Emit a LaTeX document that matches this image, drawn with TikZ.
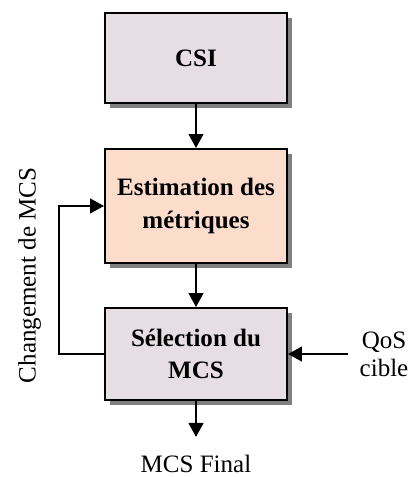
\documentclass[tikz,border=0pt]{standalone}
\usepackage{fontspec}
\setmainfont{Liberation Serif}
\usetikzlibrary{arrows.meta,shadows}
\definecolor{boxgray}{RGB}{231,222,227}
\definecolor{boxpeach}{RGB}{252,221,204}
\begin{document}
\begin{tikzpicture}[
	bloc/.style={draw, line width=1.4pt, minimum width=4.55cm, align=center,
		font=\fontsize{17.8}{22.8}\selectfont\bfseries,
		drop shadow={shadow xshift=0.12cm, shadow yshift=-0.12cm, fill=black!50, opacity=1}},
	fleche/.style={line width=1.4pt, -{Triangle[length=0.35cm,width=0.37cm]}},
	lbl/.style={font=\fontsize{17.8}{19.9}\selectfont, align=center}]
	\useasboundingbox (0,0) rectangle (10.3,11.925);
	
	%blocs
	\node[bloc, fill=boxgray, minimum height=2.25cm] (csi) at (4.9, 10.475){CSI};
	\node[bloc, fill=boxpeach, minimum height=2.85cm] (est) at (4.9, 6.775){Estimation des\\métriques};
	\node[bloc, fill=boxgray, minimum height=2.3cm] (sel) at (4.9, 3.075){Sélection du\\MCS};
	
	%entrees et sortie
	\node[lbl, inner xsep=0.29cm] (qos) at (9.6, 3.075){QoS\\cible};
	\node[lbl, anchor=base, inner sep=0pt] (final) at (4.9, 0.1){MCS Final};
	\node[lbl, rotate=90] (chg) at (0.74, 5.04){Changement de MCS};
	
	%fleches
	\draw[fleche] (csi) -- (est);
	\draw[fleche] (est) -- (sel);
	\draw[fleche, shorten >=0.46cm] (sel) -- (final);
	\draw[fleche] (qos.west) -- (sel.east);
	\draw[fleche] (sel.west) -- ++(-1.125, 0) |- (est.west);
\end{tikzpicture}
\end{document}
